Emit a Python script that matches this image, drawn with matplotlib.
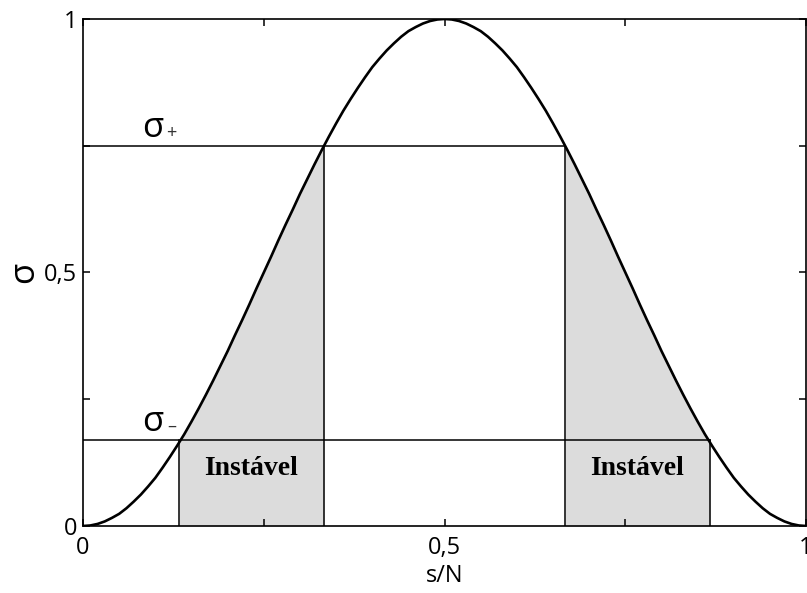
import matplotlib.pyplot as plt
from matplotlib.ticker import FixedLocator

# sigma(s/N) curve, read at steps of 0.01
s_vals = [0.00, 0.01, 0.02, 0.03, 0.04, 0.05, 0.06, 0.07, 0.08, 0.09,
          0.10, 0.11, 0.12, 0.13, 0.14, 0.15, 0.16, 0.17, 0.18, 0.19,
          0.20, 0.21, 0.22, 0.23, 0.24, 0.25, 0.26, 0.27, 0.28, 0.29,
          0.30, 0.31, 0.32, 0.33, 0.34, 0.35, 0.36, 0.37, 0.38, 0.39,
          0.40, 0.41, 0.42, 0.43, 0.44, 0.45, 0.46, 0.47, 0.48, 0.49,
          0.50, 0.51, 0.52, 0.53, 0.54, 0.55, 0.56, 0.57, 0.58, 0.59,
          0.60, 0.61, 0.62, 0.63, 0.64, 0.65, 0.66, 0.67, 0.68, 0.69,
          0.70, 0.71, 0.72, 0.73, 0.74, 0.75, 0.76, 0.77, 0.78, 0.79,
          0.80, 0.81, 0.82, 0.83, 0.84, 0.85, 0.86, 0.87, 0.88, 0.89,
          0.90, 0.91, 0.92, 0.93, 0.94, 0.95, 0.96, 0.97, 0.98, 0.99, 1.00]
sigma_vals = [0.000, 0.001, 0.004, 0.009, 0.016, 0.024, 0.035, 0.048, 0.062, 0.078,
              0.095, 0.115, 0.136, 0.158, 0.181, 0.206, 0.232, 0.259, 0.287, 0.316,
              0.345, 0.376, 0.406, 0.437, 0.469, 0.500, 0.531, 0.563, 0.594, 0.624,
              0.655, 0.684, 0.713, 0.741, 0.768, 0.794, 0.819, 0.842, 0.864, 0.885,
              0.905, 0.922, 0.938, 0.952, 0.965, 0.976, 0.984, 0.991, 0.996, 0.999,
              1.000, 0.999, 0.996, 0.991, 0.984, 0.976, 0.965, 0.952, 0.938, 0.922,
              0.905, 0.885, 0.864, 0.842, 0.819, 0.794, 0.768, 0.741, 0.713, 0.684,
              0.655, 0.624, 0.594, 0.563, 0.531, 0.500, 0.469, 0.437, 0.406, 0.376,
              0.345, 0.316, 0.287, 0.259, 0.232, 0.206, 0.181, 0.158, 0.136, 0.115,
              0.095, 0.078, 0.062, 0.048, 0.035, 0.024, 0.016, 0.009, 0.004, 0.001, 0.000]

sigma_plus = 0.75
sigma_minus = 0.17
# s/N where the curve crosses sigma- and sigma+
s_minus = [0.133, 0.867]
s_plus = [0.333, 0.667]

x_ticks = [0, 0.5, 1]
x_ticklabels = ["0", "0,5", "1"]
y_ticks = [0, 0.5, 1]
y_ticklabels = ["0", "0,5", "1"]
minor_ticks = [0.25, 0.75]
region_label = "Instável"

fig = plt.figure(figsize=(8.07, 5.93), dpi=100)
ax = fig.add_axes([0.1029, 0.113, 0.896, 0.855])

# shaded unstable bands: under the curve between sigma- and sigma+ crossings
bands = [(s_minus[0], sigma_minus, s_plus[0], sigma_plus),
         (s_plus[1], sigma_plus, s_minus[1], sigma_minus)]
for x0, y0, x1, y1 in bands:
    xs = [x0] + [s for s in s_vals if x0 < s < x1] + [x1]
    ys = [y0] + [v for s, v in zip(s_vals, sigma_vals) if x0 < s < x1] + [y1]
    ax.fill_between(xs, 0, ys, color="#dcdcdc", lw=0, zorder=1)

lw = 1.1
ax.plot([0, s_plus[1]], [sigma_plus, sigma_plus], color="black", lw=lw, zorder=2)
ax.plot([0, s_minus[1]], [sigma_minus, sigma_minus], color="black", lw=lw, zorder=2)
for s in s_minus:
    ax.plot([s, s], [0, sigma_minus], color="black", lw=lw, zorder=2)
for s in s_plus:
    ax.plot([s, s], [0, sigma_plus], color="black", lw=lw, zorder=2)

ax.plot(s_vals, sigma_vals, color="black", lw=1.9, zorder=3,
        solid_joinstyle="round")

# region labels
for xc in [0.233, 0.766]:
    ax.text(xc, 0.114, region_label, family="Liberation Serif", weight="bold",
            fontsize=20, ha="center", va="center", zorder=4)

# sigma+ / sigma- markers
for yv, sign in [(sigma_plus, "+"), (sigma_minus, "\u2013")]:
    ax.text(0.097, yv + 0.035, "\u03c3", family="Open Sans", fontsize=25,
            ha="center", va="center")
    ax.text(0.122, yv + 0.026, sign, family="Open Sans", fontsize=13,
            ha="center", va="center", color="#333333")

ax.set_xlim(0, 1)
ax.set_ylim(0, 1)
ax.xaxis.set_major_locator(FixedLocator(x_ticks))
ax.yaxis.set_major_locator(FixedLocator(y_ticks))
ax.xaxis.set_minor_locator(FixedLocator(minor_ticks))
ax.yaxis.set_minor_locator(FixedLocator(minor_ticks))
ax.set_xticklabels(x_ticklabels, family="Open Sans", fontsize=17)
ax.set_yticklabels(y_ticklabels, family="Open Sans", fontsize=17)
ax.tick_params(which="both", direction="in", top=True, right=True,
               length=5, width=1.1)
ax.tick_params(axis="x", pad=7)
ax.tick_params(axis="y", pad=4)
for sp in ax.spines.values():
    sp.set_linewidth(1.2)

ax.set_xlabel("s/N", family="Open Sans", fontsize=17, labelpad=3)
ax.set_ylabel("\u03c3", family="Open Sans", fontsize=25, labelpad=2)

fig.savefig("out.png", dpi=100)
